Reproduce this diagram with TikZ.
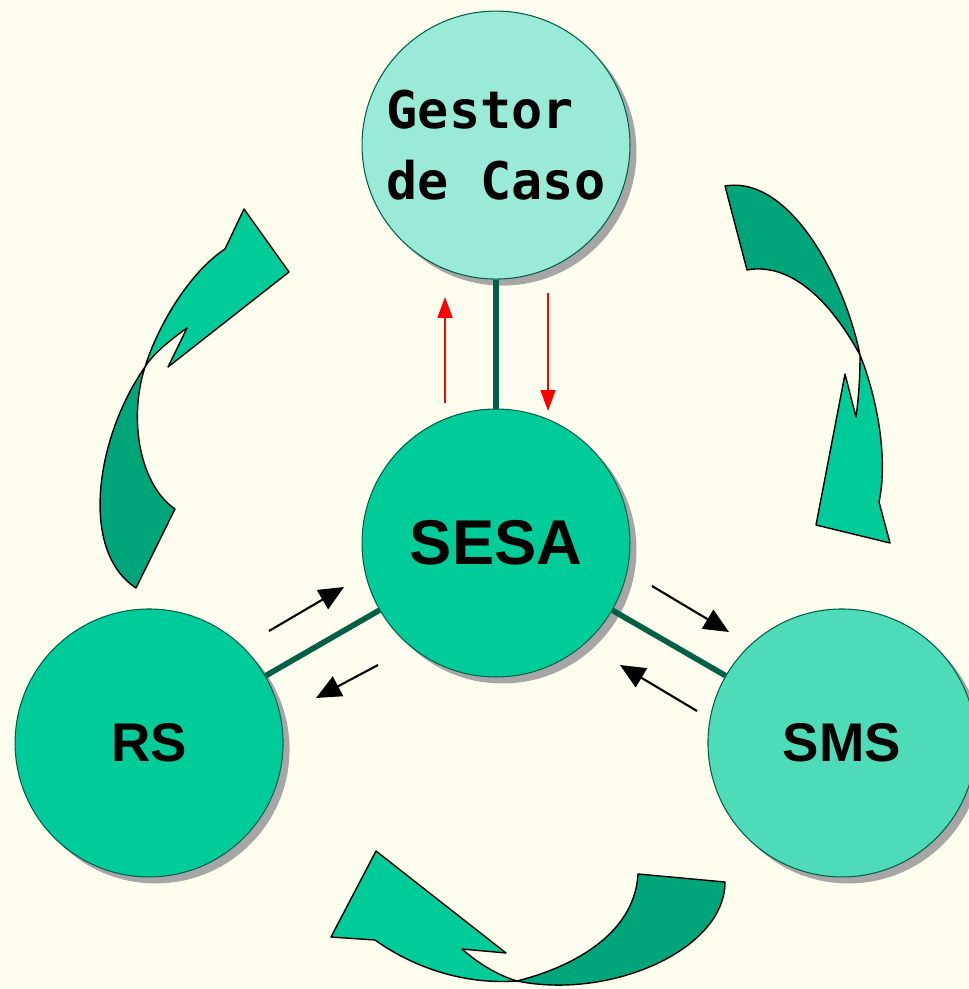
\documentclass[tikz,border=0pt]{standalone}
\usepackage{fontspec}
\usepackage{tikz}
\usetikzlibrary{positioning,shadows,arrows.meta}
\newfontfamily\casefont{DejaVu Sans Mono}
\newfontfamily\rolefont{Liberation Sans}
\definecolor{bgcream}{HTML}{FFFDEE}
\definecolor{gestorfill}{HTML}{99EBD8}
\definecolor{sesafill}{HTML}{00CC99}
\definecolor{smsfill}{HTML}{4DDBB8}
\definecolor{rimgreen}{HTML}{00604A}
\definecolor{linkgreen}{HTML}{006046}
\definecolor{bandback}{HTML}{00A57A}
\definecolor{bandfront}{HTML}{00CC99}

\begin{document}
\begin{tikzpicture}[x=0.02cm,y=-0.02cm,
	role/.style={circle,draw=rimgreen,line width=0.6pt,minimum size=5.36cm,inner sep=0pt,on grid,
		drop shadow={shadow xshift=0.13cm,shadow yshift=-0.13cm,fill=black!35,opacity=1}},
	link/.style={draw=linkgreen,line width=3.2pt},
	redarr/.style={red,line width=1pt,-{Triangle[length=0.42cm,width=0.3cm]}},
	flow/.style={black,line width=1.2pt,-{Triangle[length=0.5cm,width=0.44cm]}},
	back/.style={fill=bandback,draw=black,line width=0.8pt,line join=round},
	front/.style={fill=bandfront,draw=black,line width=0.8pt,line join=round}]
	\useasboundingbox (0,0) rectangle (968,989);
	\fill[bgcream] (0,0) rectangle (968,989);
	%% curved arrows
	% left: RS -> Gestor
	\draw[back] (145,367) .. controls (97,435) and (78,550) .. (136,588) -- (175,509)
		.. controls (140,485) and (128,420) .. (145,367) -- cycle;
	\draw[front] (145,367) .. controls (158,325) and (190,272) .. (225,249) -- (244,209) -- (289,272)
		-- (168,367) -- (187,328) .. controls (170,340) and (152,355) .. (145,367) -- cycle;
	% right: Gestor -> SMS
	\draw[back] (725,186) .. controls (790,175) and (845,280) .. (860,355)
		.. controls (830,300) and (790,262) .. (747,270) -- cycle;
	\draw[front] (860,355) .. controls (878,400) and (888,460) .. (879,502) -- (890,543) -- (816,525)
		-- (845,374) -- (856,417) .. controls (859,395) and (860,375) .. (860,355) -- cycle;
	% bottom: SMS -> RS
	\draw[back] (638,874) -- (725,882) .. controls (725,950) and (610,1000) .. (517,981)
		.. controls (580,965) and (635,930) .. (638,874) -- cycle;
	\draw[front] (517,981) .. controls (460,985) and (410,965) .. (375,940) -- (331,937) -- (376,851)
		-- (506,953) -- (462,949) .. controls (480,965) and (500,976) .. (517,981) -- cycle;
	%% circles
	\node[role,fill=sesafill,font=\rolefont\bfseries\fontsize{36}{40}\selectfont] (sesa) at (496,543) {SESA};
	\node[role,fill=gestorfill,align=left,font=\casefont\bfseries\fontsize{29.5}{38}\selectfont,
		above=7.96cm of sesa] (gestor) {\raisebox{2pt}{Gestor}\\de Caso};
	\node[role,fill=sesafill,font=\rolefont\bfseries\fontsize{31}{36}\selectfont,
		below left=4cm and 6.94cm of sesa] (rs) {RS};
	\node[role,fill=smsfill,font=\rolefont\bfseries\fontsize{31}{36}\selectfont,
		below right=4cm and 6.92cm of sesa] (sms) {SMS};
	% links
	\draw[link] (gestor) -- (sesa);
	\draw[link] (sesa) -- (rs);
	\draw[link] (sesa) -- (sms);
	%% small arrows
	\coordinate (gup0) at (445,403);  \coordinate (gup1) at (445,297);
	\coordinate (gdn0) at (548,293);  \coordinate (gdn1) at (548,411);
	\coordinate (rsin0) at (269,631); \coordinate (rsin1) at (344,587);
	\coordinate (rsout0) at (378,665); \coordinate (rsout1) at (316,698);
	\coordinate (smsout0) at (652,586); \coordinate (smsout1) at (729,632);
	\coordinate (smsin0) at (697,711); \coordinate (smsin1) at (620,665);
	\draw[redarr] (gup0) -- (gup1);
	\draw[redarr] (gdn0) -- (gdn1);
	\draw[flow] (rsin0) -- (rsin1);
	\draw[flow] (rsout0) -- (rsout1);
	\draw[flow] (smsout0) -- (smsout1);
	\draw[flow] (smsin0) -- (smsin1);
\end{tikzpicture}
\end{document}
